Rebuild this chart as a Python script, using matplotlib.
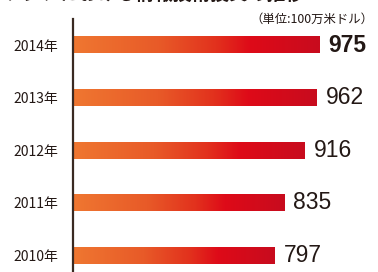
import numpy as np
import matplotlib.pyplot as plt
from matplotlib.colors import LinearSegmentedColormap

plt.rcParams['font.family'] = ['Noto Sans CJK JP', 'DejaVu Sans']

# data
years = ['2010年', '2011年', '2012年', '2013年', '2014年']
values = [797, 835, 916, 962, 975]
title = 'アジアにおける情報技術投資の推移'
unit = '（単位:100万米ドル）'

TEXT = '#231815'
bar_cmap = LinearSegmentedColormap.from_list(
    'bar', [(0.0, '#ef7731'), (0.35, '#e85a28'), (0.58, '#e2311d'),
            (0.72, '#de0a18'), (1.0, '#c80c1e')])

W, H = 378, 272
fig = plt.figure(figsize=(W / 100, H / 100), dpi=100)

left = 72.5 / W
top = 19 / H
ax = fig.add_axes([left, 0, 1 - left, 1 - top])

scale = 0.2528  # px per unit
ax.set_xlim(0, (W - 72.5) / scale)
step = 52.6
ax.set_ylim((255.5 - 272) / step, (255.5 - 19) / step)

bar_h = 16.5 / step
grad = np.linspace(0, 1, 256).reshape(1, -1)
for i, v in enumerate(values):
    ax.imshow(grad, cmap=bar_cmap, aspect='auto', interpolation='bilinear',
              extent=(0, v, i - bar_h / 2, i + bar_h / 2), zorder=2)
    last = i == len(values) - 1
    ax.annotate(str(v), xy=(v, i), xytext=(7, 0), textcoords='offset points',
                ha='left', va='center', fontsize=16.5,
                fontweight='bold' if last else 'normal',
                family=['Liberation Sans', 'DejaVu Sans'], color=TEXT)

ax.set_yticks(range(len(years)))
ax.set_yticklabels(years, fontsize=10, color=TEXT)
ax.tick_params(axis='y', length=0, pad=10)
ax.set_xticks([])
for s in ['top', 'right', 'bottom']:
    ax.spines[s].set_visible(False)
ax.spines['left'].set_color('#3a2a22')
ax.spines['left'].set_linewidth(1.6)
ax.spines['left'].set_zorder(3)

fig.text(373 / W, 1 - 19 / H, unit, ha='right', va='center',
         fontsize=8.9, color=TEXT)
# title is cut off at the top edge, as in the reference
fig.text(155 / W, 1.0, title, ha='center', va='baseline',
         fontsize=13.5, fontweight='bold', color=TEXT)

fig.savefig('out.png', dpi=100)
